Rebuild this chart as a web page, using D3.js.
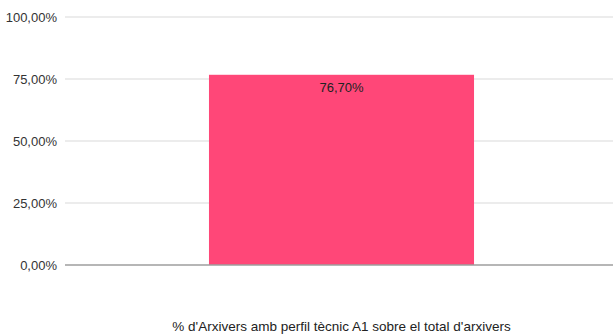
<!DOCTYPE html>
<html>
<head>
<meta charset="utf-8">
<script src="https://cdn.jsdelivr.net/npm/d3@7"></script>
<style>
  body { margin: 0; background: #fff; overflow: hidden; }
  text { font-family: Arial, 'Liberation Sans', sans-serif; }
</style>
</head>
<body>
<div class="chart"></div>
<script>
// data
const categories = ["% d'Arxivers amb perfil tècnic A1 sobre el total d'arxivers"];
const values = [76.70];
const tickValues = [0, 25, 50, 75, 100];

const fmt = v => d3.format('.2f')(v).replace('.', ',') + '%';

// plot area runs a little past the right edge, as in the original
const margin = { top: 17, right: -5, bottom: 70, left: 65 };
const width = 613 - margin.left - margin.right;
const height = 335 - margin.top - margin.bottom;

const svg = d3.select('.chart')
    .append('svg')
    .attr('width', 613)
    .attr('height', 335)
    .append('g')
    .attr('transform', `translate(${margin.left}, ${margin.top})`);

const xScale = d3.scaleBand()
    .domain(categories)
    .range([0, width])
    .paddingInner(0.352)
    .paddingOuter(0.352);

const yScale = d3.scaleLinear()
    .domain([0, 100])
    .range([height, 0]);

// gridlines
svg.selectAll('.grid')
    .data(tickValues.filter(d => d > 0))
    .enter()
    .append('line')
        .attr('x1', 0)
        .attr('x2', width)
        .attr('y1', d => yScale(d))
        .attr('y2', d => yScale(d))
        .attr('stroke', '#d9d9d9')
        .attr('stroke-width', 1);

// y tick labels
svg.selectAll('.ytick')
    .data(tickValues)
    .enter()
    .append('text')
        .attr('x', -8)
        .attr('y', d => yScale(d))
        .attr('dy', '0.35em')
        .attr('text-anchor', 'end')
        .attr('font-size', 13)
        .attr('fill', '#333')
        .text(fmt);

// bars
svg.selectAll('.bar')
    .data(values)
    .enter()
    .append('rect')
        .attr('x', (d, i) => xScale(categories[i]))
        .attr('y', d => yScale(d))
        .attr('width', xScale.bandwidth())
        .attr('height', d => height - yScale(d))
        .attr('fill', '#ff4778');

// value labels
svg.selectAll('.val')
    .data(values)
    .enter()
    .append('text')
        .attr('x', (d, i) => xScale(categories[i]) + xScale.bandwidth() / 2)
        .attr('y', d => yScale(d) + 12.5)
        .attr('dy', '0.35em')
        .attr('text-anchor', 'middle')
        .attr('font-size', 13)
        .attr('fill', '#222')
        .text(fmt);

// baseline
svg.append('line')
    .attr('x1', 0)
    .attr('x2', width)
    .attr('y1', yScale(0))
    .attr('y2', yScale(0))
    .attr('stroke', '#9e9e9e')
    .attr('stroke-width', 1.5);

// category label
svg.selectAll('.cat')
    .data(categories)
    .enter()
    .append('text')
        .attr('x', d => xScale(d) + xScale.bandwidth() / 2)
        .attr('y', height + 61)
        .attr('dy', '0.35em')
        .attr('text-anchor', 'middle')
        .attr('font-size', 13.5)
        .attr('fill', '#222')
        .text(d => d);
</script>
</body>
</html>
